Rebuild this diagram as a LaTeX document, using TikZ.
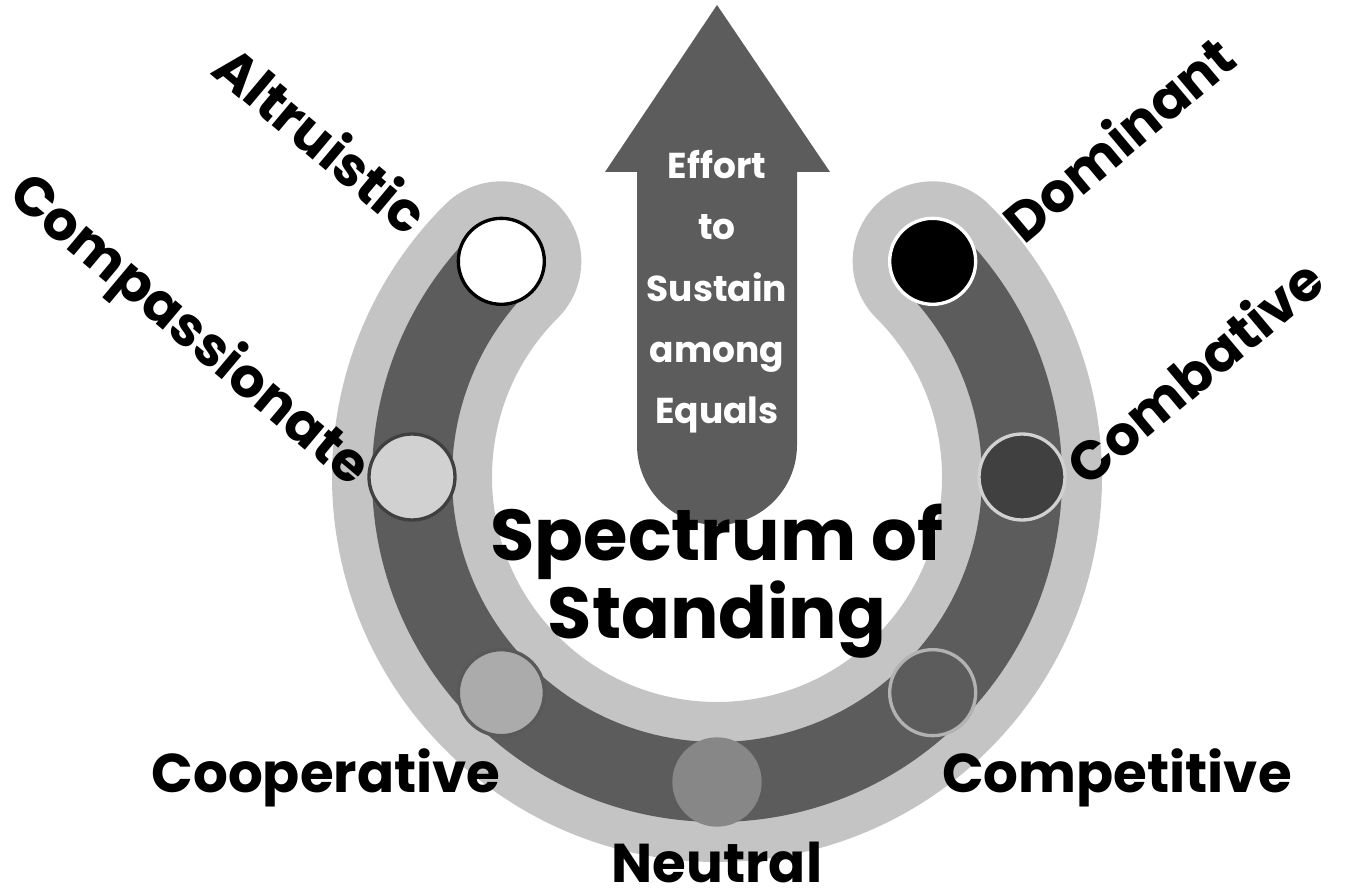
\documentclass[tikz,border=0pt]{standalone}
\usepackage{fontspec}
\setmainfont{Poppins}
\begin{document}
\begin{tikzpicture}[x=0.75pt,y=0.75pt,
  lbl/.style={font=\bfseries\fontsize{41}{44}\selectfont,inner sep=0pt},
  dot/.style={circle,minimum size=86*0.75pt,inner sep=0pt,line width=2.5pt}]
\useasboundingbox (0,0) rectangle (1346,896);
\definecolor{lg}{HTML}{C4C4C4}\definecolor{dg}{HTML}{5C5C5C}
\coordinate (c) at (717,419);
\draw[lg,line width=120pt,line cap=round] ([shift={(135:305)}]c) arc[start angle=135,end angle=405,radius=305];
\draw[dg,line width=60pt] ([shift={(135:305)}]c) arc[start angle=135,end angle=405,radius=305];
% arrow
\fill[dg] (637,724) -- (637,451) arc[start angle=180,end angle=360,radius=80] -- (797,724) -- (830,724) -- (717,891) -- (605,724) -- cycle;
\node[align=center,text=white,font=\bfseries\fontsize{27}{46}\selectfont] (arr) at (717,604) {Effort\\to\\Sustain\\among\\Equals};
% dots
\node[dot,fill=white,draw=black] (alt) at ([shift={(135:305)}]c) {};
\node[dot,fill=black,draw=white] (dom) at ([shift={(45:305)}]c) {};
\node[dot,fill=black!18,draw=black!75] (com) at ([shift={(180:305)}]c) {};
\node[dot,fill=black!75,draw=black!18] (cmb) at ([shift={(0:305)}]c) {};
\node[dot,fill=black!33,draw=black!65] (coo) at ([shift={(225:305)}]c) {};
\node[dot,fill=black!64,draw=black!30] (cpt) at ([shift={(315:305)}]c) {};
\node[dot,fill=black!47,draw=black!47] (neu) at ([shift={(270:305)}]c) {};
% labels
\node[lbl,rotate=-40] (la) at (322,757) {Altruistic};
\node[lbl,rotate=-40] (lc) at (188,564) {Compassionate};
\node[lbl,rotate=40] (ld) at (1118,758) {Dominant};
\node[lbl,rotate=40] (lb) at (1194,525) {Combative};
\node[lbl] (lco) at (326,118) {Cooperative};
\node[lbl] (lcp) at (1117,118) {Competitive};
\node[lbl] (ln) at (717,34) {Neutral};
\node[align=center,font=\bfseries\fontsize{54}{52}\selectfont] (t) at (717,315) {Spectrum of\\Standing};
\end{tikzpicture}
\end{document}
